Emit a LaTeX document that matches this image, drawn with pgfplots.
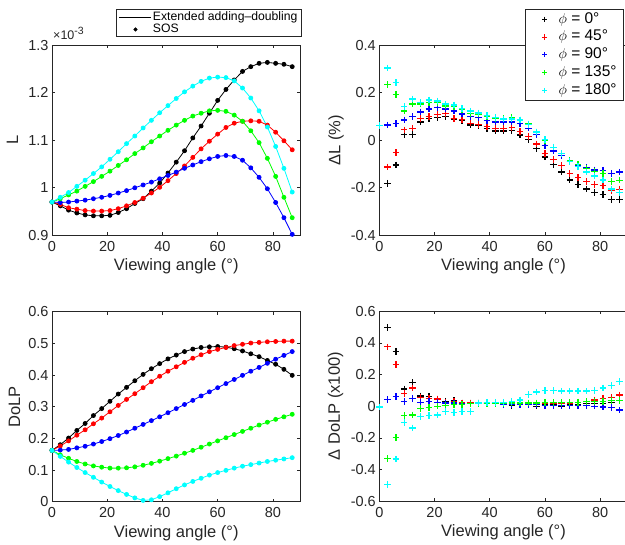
\documentclass[border=0pt]{standalone}
\usepackage{pgfplots}
\pgfplotsset{compat=1.18}
\usepackage{pgfplotstable}
\usepackage{fontspec}
\setmainfont{Liberation Sans}

\definecolor{axisgray}{gray}{0.15}
\definecolor{cBlack}{rgb}{0,0,0}
\definecolor{cRed}{rgb}{1,0,0}
\definecolor{cBlue}{rgb}{0,0,1}
\definecolor{cGreen}{rgb}{0,1,0}
\definecolor{cCyan}{rgb}{0,1,1}

\newcommand{\tickfont}{\fontsize{14.5}{16}\selectfont}
\newcommand{\labfont}{\fontsize{16.5}{19}\selectfont}
\newcommand{\legfont}{\fontsize{12.2}{14}\selectfont}
\newcommand{\philegfont}{\fontsize{15.5}{17}\selectfont}

% Radiance L (x 1e-3) for each azimuth phi
\pgfplotstableread{
x  c0    c45   c90   c135  c180
0  0.970 0.970 0.970 0.970 0.970
3  0.962 0.965 0.969 0.977 0.980
6  0.953 0.958 0.970 0.985 0.990
9  0.947 0.955 0.972 0.993 1.003
12 0.943 0.952 0.974 1.003 1.016
15 0.941 0.951 0.977 1.013 1.030
18 0.941 0.951 0.980 1.024 1.044
21 0.942 0.952 0.984 1.035 1.060
24 0.948 0.956 0.989 1.047 1.076
27 0.956 0.962 0.994 1.059 1.093
30 0.967 0.969 1.000 1.072 1.109
33 0.977 0.978 1.006 1.084 1.126
36 0.993 0.989 1.012 1.097 1.142
39 1.010 1.001 1.019 1.109 1.158
42 1.031 1.015 1.026 1.121 1.173
45 1.054 1.030 1.033 1.132 1.188
48 1.078 1.046 1.041 1.142 1.202
51 1.105 1.064 1.048 1.151 1.214
54 1.130 1.082 1.055 1.157 1.224
57 1.157 1.098 1.061 1.162 1.231
60 1.184 1.113 1.066 1.163 1.233
63 1.207 1.127 1.068 1.161 1.232
66 1.227 1.136 1.066 1.153 1.225
69 1.245 1.140 1.058 1.140 1.210
72 1.255 1.141 1.042 1.120 1.189
75 1.262 1.140 1.022 1.095 1.162
78 1.264 1.132 0.998 1.062 1.128
81 1.262 1.117 0.969 1.024 1.087
84 1.260 1.099 0.937 0.980 1.041
87 1.255 1.080 0.902 0.937 0.991
}\tabL

% Relative difference in L (%)
\pgfplotstableread{
x  c0     c45    c90    c135   c180
0  0.062  0.062  0.062  0.062  0.062
3  -0.181 -0.112 0.065  0.234  0.305
6  -0.104 -0.052 0.070  0.194  0.244
9  0.024  0.044  0.086  0.123  0.142
12 0.025  0.051  0.101  0.153  0.174
15 0.077  0.091  0.119  0.153  0.158
18 0.091  0.101  0.132  0.158  0.170
21 0.097  0.109  0.138  0.158  0.166
24 0.101  0.114  0.132  0.144  0.153
27 0.090  0.093  0.123  0.142  0.149
30 0.083  0.087  0.111  0.129  0.133
33 0.065  0.072  0.101  0.114  0.123
36 0.061  0.066  0.097  0.111  0.115
39 0.049  0.058  0.084  0.100  0.104
42 0.039  0.049  0.077  0.091  0.095
45 0.039  0.049  0.077  0.091  0.090
48 0.042  0.054  0.077  0.095  0.090
51 0.022  0.038  0.070  0.086  0.086
54 0.004  0.017  0.051  0.069  0.066
57 -0.035 -0.015 0.024  0.035  0.035
60 -0.070 -0.056 -0.022 0.000  0.004
63 -0.102 -0.080 -0.045 -0.029 -0.029
66 -0.133 -0.105 -0.065 -0.055 -0.055
69 -0.167 -0.140 -0.090 -0.084 -0.090
72 -0.185 -0.157 -0.104 -0.101 -0.111
75 -0.205 -0.174 -0.114 -0.119 -0.133
78 -0.219 -0.187 -0.125 -0.130 -0.150
81 -0.227 -0.191 -0.126 -0.139 -0.167
84 -0.250 -0.212 -0.140 -0.174 -0.205
87 -0.250 -0.206 -0.134 -0.168 -0.221
}\tabdL

% Degree of linear polarization
\pgfplotstableread{
x  c0    c45   c90   c135  c180
0  0.162 0.162 0.162 0.162 0.162
3  0.180 0.176 0.163 0.148 0.143
6  0.201 0.192 0.165 0.137 0.125
9  0.225 0.210 0.170 0.127 0.108
12 0.247 0.227 0.175 0.119 0.092
15 0.272 0.246 0.182 0.113 0.077
18 0.294 0.264 0.190 0.109 0.062
21 0.317 0.284 0.199 0.106 0.048
24 0.340 0.304 0.209 0.106 0.035
27 0.361 0.323 0.220 0.107 0.023
30 0.382 0.341 0.232 0.110 0.012
33 0.402 0.360 0.244 0.115 0.004
36 0.420 0.379 0.256 0.121 0.006
39 0.436 0.396 0.268 0.128 0.016
42 0.451 0.412 0.281 0.136 0.028
45 0.463 0.426 0.294 0.144 0.041
48 0.474 0.440 0.307 0.153 0.053
51 0.482 0.453 0.320 0.162 0.064
54 0.487 0.464 0.334 0.172 0.074
57 0.489 0.474 0.347 0.182 0.084
60 0.490 0.481 0.360 0.192 0.092
63 0.488 0.487 0.373 0.202 0.099
66 0.483 0.493 0.386 0.212 0.106
69 0.476 0.497 0.399 0.222 0.112
72 0.467 0.501 0.412 0.232 0.117
75 0.458 0.503 0.424 0.242 0.122
78 0.446 0.505 0.437 0.251 0.127
81 0.434 0.506 0.450 0.260 0.131
84 0.418 0.507 0.462 0.268 0.135
87 0.399 0.507 0.474 0.276 0.139
}\tabP

% Difference in DoLP (x100)
\pgfplotstableread{
x  c0     c45    c90    c135   c180
0  -0.005 -0.005 -0.005 -0.005 -0.005
3  0.498  0.375  0.041  -0.330 -0.494
6  0.347  0.265  0.060  -0.196 -0.334
9  0.109  0.082  0.030  -0.058 -0.103
12 0.150  0.114  0.050  -0.055 -0.137
15 0.065  0.055  0.025  -0.015 -0.065
18 0.060  0.050  0.030  -0.010 -0.060
21 0.046  0.045  0.025  0.000  -0.055
24 0.031  0.025  0.020  0.005  -0.035
27 0.035  0.030  0.020  0.010  -0.040
30 0.020  0.020  0.015  0.010  -0.035
33 0.020  0.020  0.015  0.015  -0.035
36 0.020  0.020  0.015  0.015  0.020
39 0.015  0.020  0.015  0.015  0.025
42 0.015  0.020  0.015  0.015  0.025
45 0.010  0.015  0.010  0.015  0.025
48 0.005  0.015  0.010  0.020  0.030
51 0.010  0.015  0.010  0.020  0.040
54 0.010  0.015  0.010  0.020  0.075
57 0.000  0.015  0.010  0.020  0.090
60 0.010  0.015  0.005  0.025  0.100
63 0.010  0.015  0.005  0.025  0.100
66 0.000  0.020  0.005  0.025  0.095
69 0.010  0.020  0.005  0.025  0.095
72 0.010  0.025  0.005  0.025  0.095
75 0.015  0.030  0.005  0.030  0.095
78 0.015  0.040  0.000  0.030  0.100
81 0.015  0.050  -0.005 0.030  0.115
84 0.025  0.055  -0.010 0.035  0.130
87 0.035  0.070  -0.025 0.035  0.155
}\tabdP

\pgfplotsset{
  panel/.style={
    scale only axis, width=248.5pt, height=190pt,
    anchor=south west,
    xmin=0, xmax=90, xtick={0,20,40,60,80},
    axis line style={axisgray, line width=0.6pt},
    every tick/.style={axisgray, line width=0.6pt},
    major tick length=3pt,
    tick label style={font=\tickfont, text=axisgray},
    xticklabel style={yshift=-2.5pt},
    /pgf/number format/assume math mode=true,
    every axis x label/.style={at={(axis description cs:0.5,0)}, anchor=north,
      yshift=-23.5pt, inner sep=0pt, font=\labfont, text=axisgray},
    every axis y label/.style={at={(axis description cs:#1,0.5)}, anchor=center,
      rotate=90, inner sep=0pt, font=\labfont, text=axisgray},
    xlabel={Viewing angle (°)},
  },
  dotline/.style={color=#1, line width=0.8pt, mark=*, mark size=2pt,
    mark options={solid, fill=#1, draw=#1}},
  % plus markers; the legend sample is one smaller plus centred in a 26pt slot
  % (an invisible, unmarked rectangle reserves the slot's width)
  crossm/.style={color=#1, only marks, mark=+, mark size=3.3pt,
    mark options={line width=1.3pt},
    legend image code/.code={%
      \pgfpathrectangle{\pgfpoint{0pt}{-1pt}}{\pgfpoint{26pt}{2pt}}\pgfusepath{}%
      \draw[##1, mark repeat=2, mark phase=2,
      mark size=2.6pt, mark options={line width=1pt}]
      plot coordinates {(0pt,0pt) (13pt,0pt) (26pt,0pt)};}},
  % SOS legend sample: one dot in the middle of the 32pt slot
  sosleg/.style={black, only marks, mark=*, mark size=1.7pt,
    legend image code/.code={%
      \pgfpathrectangle{\pgfpoint{0pt}{-1pt}}{\pgfpoint{32pt}{2pt}}\pgfusepath{}%
      \draw[##1, mark repeat=2, mark phase=2]
      plot coordinates {(0pt,0pt) (16pt,0pt) (32pt,0pt)};}},
}

\begin{document}
\begin{tikzpicture}
\useasboundingbox (0pt,0pt) rectangle (625pt,545pt);

% ---- L ----
\begin{axis}[panel=-0.159, name=axL, at={(52pt,309.7pt)},
  ymin=0.9, ymax=1.3, ytick={0.9,1,1.1,1.2,1.3},
  ylabel={L},
  legend style={at={(1.006,1.044)}, anchor=south east, font=\legfont,
    draw=axisgray, line width=0.6pt, inner xsep=3pt, inner ysep=1pt,
    cells={anchor=west}, nodes={inner sep=1.2pt}},
  legend image code/.code={\draw[mark repeat=2, mark phase=2, #1]
    plot coordinates {(0pt,0pt) (16pt,0pt) (32pt,0pt)};},
]
\addlegendimage{black, line width=0.6pt}
\addlegendentry{Extended adding–doubling}
\addlegendimage{sosleg}
\addlegendentry{SOS}
\addplot[dotline=cBlack, forget plot] table[x=x, y=c0] {\tabL};
\addplot[dotline=cRed,   forget plot] table[x=x, y=c45] {\tabL};
\addplot[dotline=cBlue,  forget plot] table[x=x, y=c90] {\tabL};
\addplot[dotline=cGreen, forget plot] table[x=x, y=c135] {\tabL};
\addplot[dotline=cCyan,  forget plot] table[x=x, y=c180] {\tabL};
\end{axis}
\node[anchor=base west, inner sep=0pt, text=axisgray, font=\fontsize{12.5}{14}\selectfont]
  at ([xshift=1pt, yshift=5.3pt]axL.north west)
  {×10\raisebox{5pt}{\fontsize{10.5}{11}\selectfont -3}};

% ---- Delta L ----
\begin{axis}[panel=-0.174, at={(379.3pt,309.7pt)},
  ymin=-0.4, ymax=0.4, ytick={-0.4,-0.2,0,0.2,0.4},
  ylabel={ΔL (\%)},
  legend style={at={(0.9847,1.1926)}, anchor=north east, font=\philegfont,
    draw=axisgray, line width=0.6pt, inner xsep=6pt, inner ysep=2pt,
    row sep=1.3pt, cells={anchor=west},
    nodes={inner sep=1pt, text height=11pt, text depth=3.5pt},
    /tikz/every even column/.append style={column sep=5pt}},
]
\addplot[crossm=cBlack] table[x=x, y=c0] {\tabdL};
\addlegendentry{$\phi$ = 0°}
\addplot[crossm=cRed] table[x=x, y=c45] {\tabdL};
\addlegendentry{$\phi$ = 45°}
\addplot[crossm=cBlue] table[x=x, y=c90] {\tabdL};
\addlegendentry{$\phi$ = 90°}
\addplot[crossm=cGreen] table[x=x, y=c135] {\tabdL};
\addlegendentry{$\phi$ = 135°}
\addplot[crossm=cCyan] table[x=x, y=c180] {\tabdL};
\addlegendentry{$\phi$ = 180°}
\end{axis}

% ---- DoLP ----
\begin{axis}[panel=-0.151, at={(52pt,43.3pt)},
  ymin=0, ymax=0.6, ytick={0,0.1,0.2,0.3,0.4,0.5,0.6},
  ylabel={DoLP},
]
\addplot[dotline=cBlack] table[x=x, y=c0] {\tabP};
\addplot[dotline=cRed]   table[x=x, y=c45] {\tabP};
\addplot[dotline=cBlue]  table[x=x, y=c90] {\tabP};
\addplot[dotline=cGreen] table[x=x, y=c135] {\tabP};
\addplot[dotline=cCyan]  table[x=x, y=c180] {\tabP};
\end{axis}

% ---- Delta DoLP ----
\begin{axis}[panel=-0.176, at={(379.3pt,43.8pt)},
  ymin=-0.6, ymax=0.6, ytick={-0.6,-0.4,-0.2,0,0.2,0.4,0.6},
  ylabel={Δ DoLP (x100)},
]
\addplot[crossm=cBlack] table[x=x, y=c0] {\tabdP};
\addplot[crossm=cRed]   table[x=x, y=c45] {\tabdP};
\addplot[crossm=cBlue]  table[x=x, y=c90] {\tabdP};
\addplot[crossm=cGreen] table[x=x, y=c135] {\tabdP};
\addplot[crossm=cCyan]  table[x=x, y=c180] {\tabdP};
\end{axis}
\end{tikzpicture}
\end{document}
